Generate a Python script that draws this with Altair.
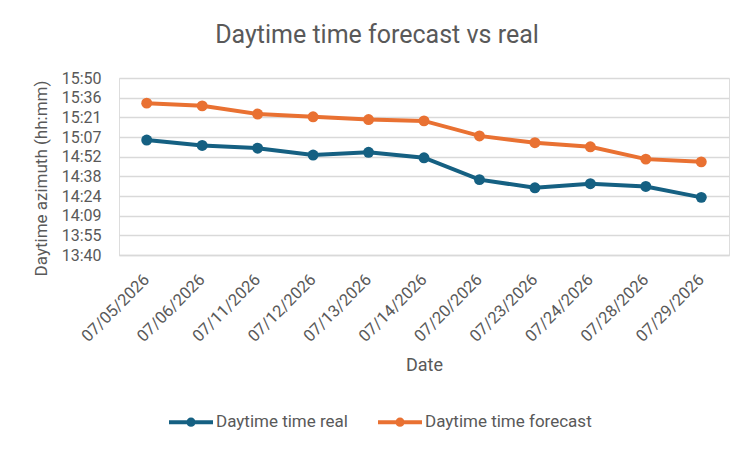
import altair as alt
import pandas as pd

dates = ["07/05/2026", "07/06/2026", "07/11/2026", "07/12/2026", "07/13/2026", "07/14/2026",
         "07/20/2026", "07/23/2026", "07/24/2026", "07/28/2026", "07/29/2026"]
real = ["15:05", "15:01", "14:59", "14:54", "14:56", "14:52",
        "14:36", "14:30", "14:33", "14:31", "14:23"]
forecast = ["15:32", "15:30", "15:24", "15:22", "15:20", "15:19",
            "15:08", "15:03", "15:00", "14:51", "14:49"]
series_names = ["Daytime time real", "Daytime time forecast"]
series_colors = ["#156082", "#E97132"]
# y axis ticks in fractions of a day (Excel style), 0.57 .. 0.66
tick_days = [0.57, 0.58, 0.59, 0.60, 0.61, 0.62, 0.63, 0.64, 0.65, 0.66]


def to_min(s):
    h, m = s.split(":")
    return int(h) * 60 + int(m)


rows = []
for name, vals in zip(series_names, [real, forecast]):
    for d, v in zip(dates, vals):
        rows.append({"Date": d, "series": name, "minutes": to_min(v)})
df = pd.DataFrame(rows)

tick_vals = [round(t * 1440, 1) for t in tick_days]

FONT = "Roboto"
GREY = "#595959"

legend_path = "M-1,0L1,0M0.12,0A0.12,0.12,0,1,1,-0.12,0A0.12,0.12,0,1,1,0.12,0Z"

chart = alt.Chart(df).mark_line(
    strokeWidth=4,
    point=alt.OverlayMarkDef(filled=True, size=120, opacity=1),
).encode(
    x=alt.X("Date:N", sort=dates,
            scale=alt.Scale(type="point", padding=0.5),
            axis=alt.Axis(title="Date", labelAngle=-45, labelFontSize=16.5, labelColor=GREY,
                          labelFont=FONT, ticks=False, domain=True, domainColor="#d9d9d9",
                          domainWidth=1.5, labelPadding=16, labelOffset=-6,
                          titleFont=FONT, titleFontSize=18,
                          titleColor=GREY, titleFontWeight="normal", titleY=110,
                          titleBaseline="middle", grid=False)),
    y=alt.Y("minutes:Q",
            scale=alt.Scale(domain=[tick_vals[0], tick_vals[-1]], nice=False, zero=False),
            axis=alt.Axis(title="Daytime azimuth (hh:mm)", values=tick_vals,
                          labelExpr="floor(datum.value/60) + ':' + (floor(datum.value%60) < 10 ? '0' : '') + floor(datum.value%60)",
                          labelFontSize=16, labelColor=GREY, labelFont=FONT, ticks=False,
                          domain=False, labelPadding=18, gridColor="#d9d9d9", gridWidth=1.5,
                          titleFont=FONT, titleFontSize=17, titleColor=GREY,
                          titleFontWeight="normal", titleX=-78, titleY=100,
                          titleBaseline="middle")),
    color=alt.Color("series:N", sort=series_names,
                    scale=alt.Scale(domain=series_names, range=series_colors),
                    legend=alt.Legend(title=None, orient="none", direction="horizontal",
                                      legendX=48, legendY=320, symbolType=legend_path,
                                      symbolSize=1936, symbolStrokeWidth=4,
                                      labelFont=FONT, labelFontSize=17, labelColor=GREY,
                                      labelOffset=1, columnPadding=22, labelLimit=400)),
).properties(
    width=610,
    height=177,
    title=alt.TitleParams("Daytime time forecast vs real", font=FONT, fontSize=25,
                          fontWeight="normal", color=GREY, anchor="middle", frame="group",
                          dx=-47, offset=22),
    autosize=alt.AutoSizeParams(type="none"),
    padding={"left": 111, "top": 70, "right": 15, "bottom": 188},
).configure_view(stroke=None).configure(background="white")

chart.save("out.html", embed_options={"renderer": "svg", "actions": False})
